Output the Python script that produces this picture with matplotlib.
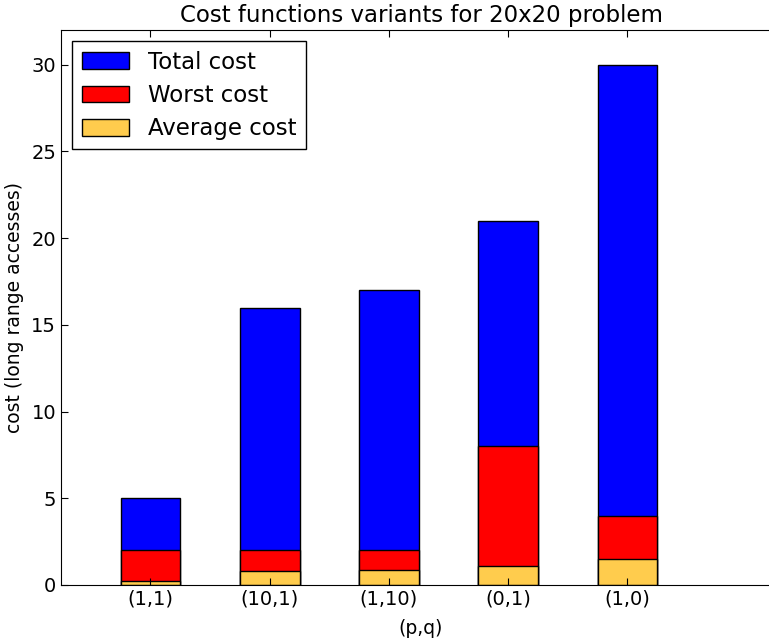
import matplotlib
matplotlib.use("Agg")
import matplotlib.pyplot as plt
import numpy as np

# cost per (p,q) variant
variants = ["(1,1)", "(10,1)", "(1,10)", "(0,1)", "(1,0)"]
total_cost = [5, 16, 17, 21, 30]
worst_cost = [2, 2, 2, 8, 4]
average_cost = [0.25, 0.8, 0.87, 1.07, 1.52]

plt.rcParams['font.family'] = ['DejaVu Sans']
plt.rcParams['xtick.direction'] = 'in'
plt.rcParams['ytick.direction'] = 'in'
plt.rcParams['xtick.top'] = True
plt.rcParams['ytick.right'] = False

fig = plt.figure(figsize=(7.69, 6.41), dpi=100)
ax = fig.add_axes([61 / 769, 56 / 641, 720 / 769, 555 / 641])

ind = np.arange(len(variants))
width = 0.5
ax.bar(ind, total_cost, width, color='#0000ff', edgecolor='black', linewidth=1, label='Total cost')
ax.bar(ind, worst_cost, width, color='#ff0000', edgecolor='black', linewidth=1, label='Worst cost')
ax.bar(ind, average_cost, width, color='#ffcc4d', edgecolor='black', linewidth=1, label='Average cost')

ax.set_xlim(-0.75, -0.75 + 720 / 119.25)
ax.set_ylim(0, 32)
ax.set_xticks(ind)
ax.set_xticklabels(variants)
ax.set_yticks(range(0, 31, 5))
ax.tick_params(labelsize=14, length=5, width=0.8)

ax.set_title('Cost functions variants for 20x20 problem', fontsize=16.5)
ax.set_xlabel('(p,q)', fontsize=13.5, labelpad=7.5)
ax.set_ylabel('cost (long range accesses)', fontsize=13.5, labelpad=5.5)

leg = ax.legend(loc='upper left', fontsize=16.5, fancybox=False, framealpha=1,
                edgecolor='black', handlelength=2.05, handleheight=0.75,
                handletextpad=0.85, borderaxespad=0.5, labelspacing=0.45)
leg.get_frame().set_linewidth(1)

fig.savefig('out.png', dpi=100)
